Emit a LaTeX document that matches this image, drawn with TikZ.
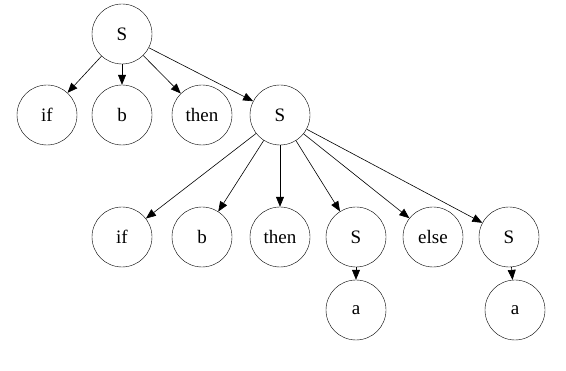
\documentclass[tikz,border=0pt]{standalone}
\usepackage{fontspec}
\setmainfont{Liberation Serif}
\usetikzlibrary{arrows.meta}

\begin{document}
\begin{tikzpicture}[
  x=1pt, y=-1pt,
  tnode/.style={draw, circle, minimum size=60pt, inner sep=0pt, font=\fontsize{19}{22}\selectfont},
  edge/.style={-{Triangle[length=10pt,width=8pt]}, semithick}
]
  \useasboundingbox (0,0) rectangle (566,371);

  % first level
  \node[tnode] (s0) at (122,34) {S};
  \node[tnode] (if0) at (47,115) {if};
  \node[tnode] (b0) at (122,115) {b};
  \node[tnode] (then0) at (202,115) {then};
  \node[tnode] (s1) at (280,115) {S};

  % second level
  \node[tnode] (if1) at (122,237) {if};
  \node[tnode] (b1) at (202,237) {b};
  \node[tnode] (then1) at (280,237) {then};
  \node[tnode] (s2) at (356,237) {S};
  \node[tnode] (else1) at (433,237) {else};
  \node[tnode] (s3) at (509,237) {S};

  % leaves
  \node[tnode] (a1) at (356,310) {a};
  \node[tnode] (a2) at (515,310) {a};

  \draw[edge] (s0) -- (if0);
  \draw[edge] (s0) -- (b0);
  \draw[edge] (s0) -- (then0);
  \draw[edge] (s0) -- (s1);
  \draw[edge] (s1) -- (if1);
  \draw[edge] (s1) -- (b1);
  \draw[edge] (s1) -- (then1);
  \draw[edge] (s1) -- (s2);
  \draw[edge] (s1) -- (else1);
  \draw[edge] (s1) -- (s3);
  \draw[edge] (s2) -- (a1);
  \draw[edge] (s3) -- (a2);
\end{tikzpicture}
\end{document}
